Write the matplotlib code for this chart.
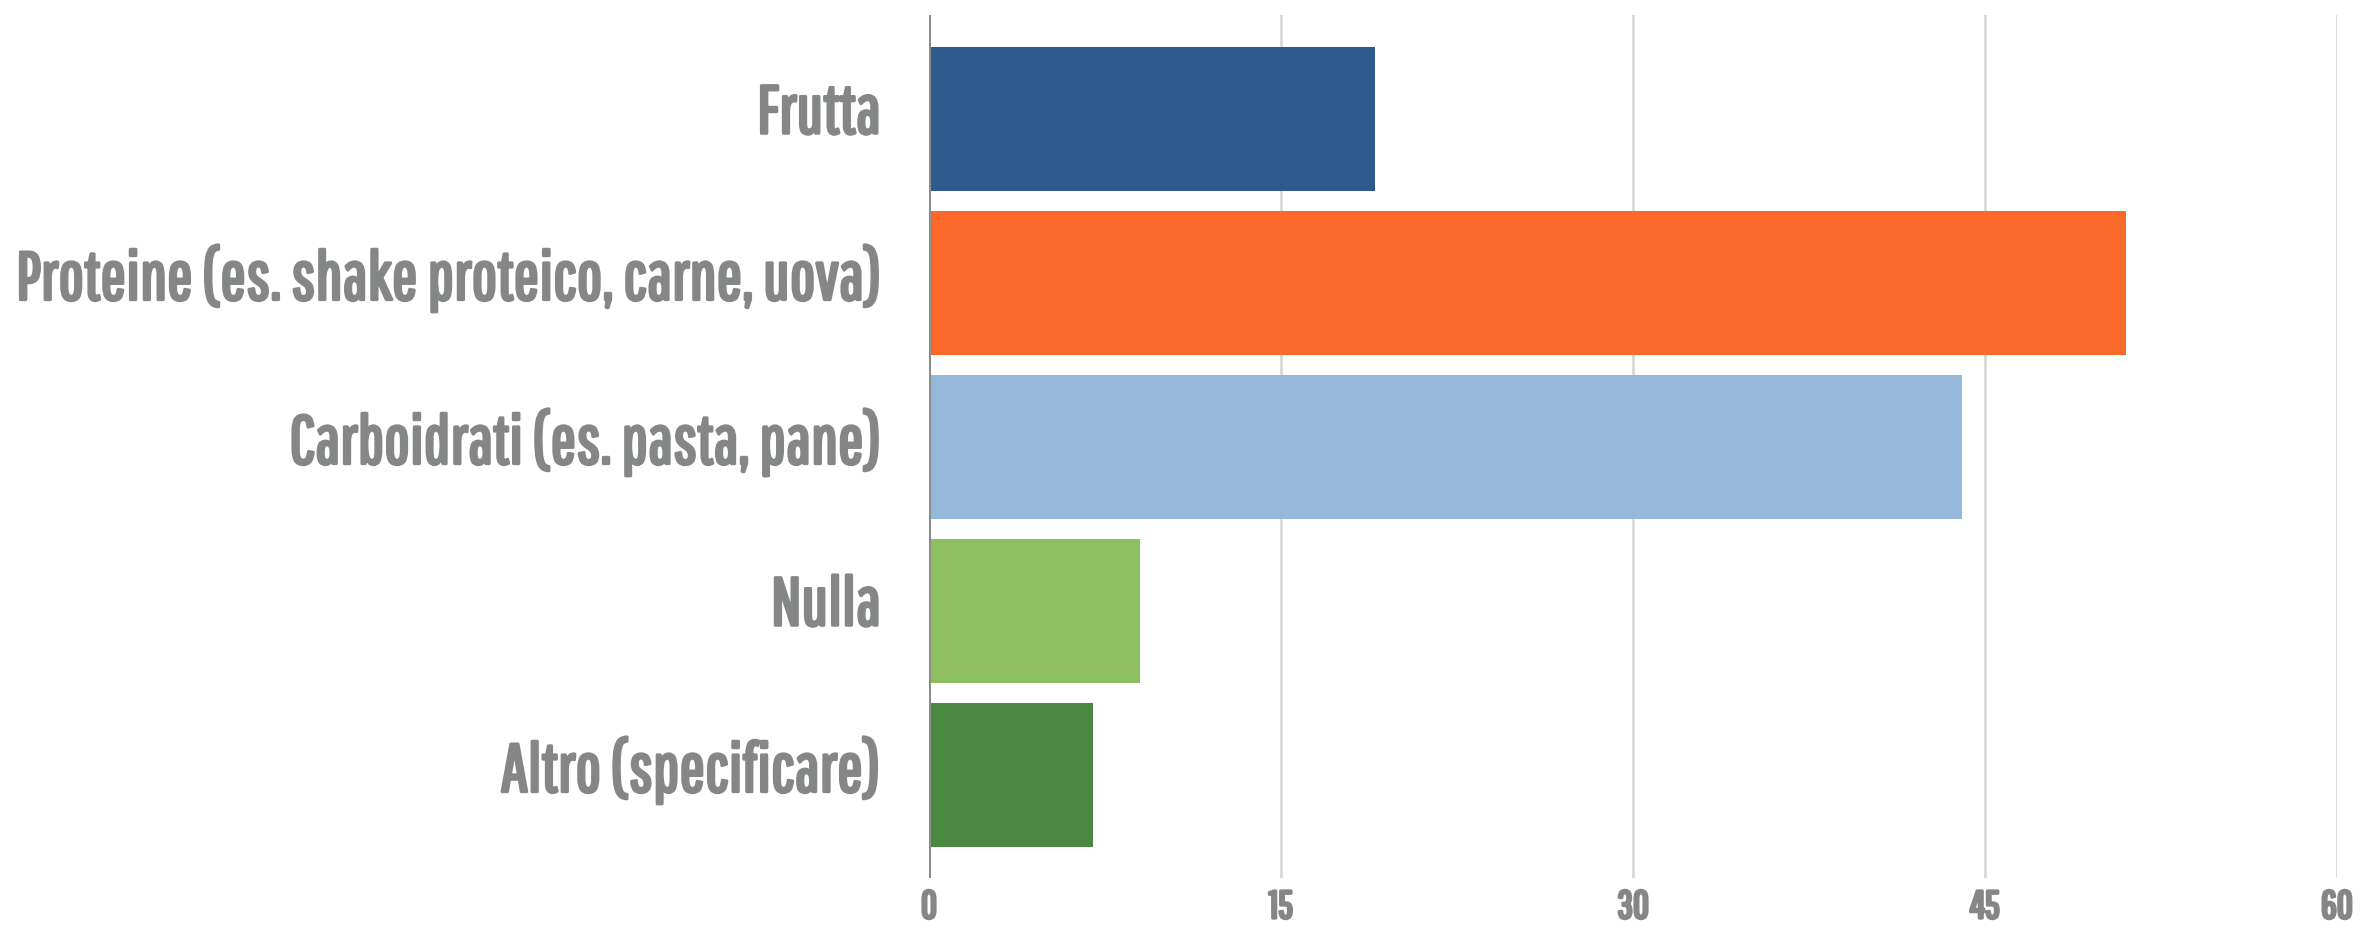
import matplotlib
matplotlib.use("Agg")
import matplotlib.pyplot as plt
from matplotlib import font_manager
import matplotlib.patheffects as pe
import matplotlib.transforms as mtransforms

categories = [
    "Frutta",
    "Proteine (es. shake proteico, carne, uova)",
    "Carboidrati (es. pasta, pane)",
    "Nulla",
    "Altro (specificare)",
]
values = [19, 51, 44, 9, 7]
colors = ["#2E5A8B", "#F9692A", "#96B8DB", "#8DBE60", "#4B8943"]
xticks = [0, 15, 30, 45, 60]
xtick_labels = ["0", "15", "30", "45", "60"]

names = {f.name for f in font_manager.fontManager.ttflist}
fam = [n for n in ["Pathway Gothic One", "League Gothic", "DejaVu Sans"] if n in names] or ["DejaVu Sans"]
text_color = "#858787"
bold_fx = [pe.withStroke(linewidth=2.2, foreground=text_color)]

W, H = 2378, 927
fig = plt.figure(figsize=(W / 100, H / 100), dpi=100)
ax = fig.add_axes([929 / W, 1 - 878 / H, (2337 - 929) / W, (878 - 15) / H])

ypos = list(range(len(categories)))
ax.barh(ypos, values, height=0.878, color=colors, zorder=3)
ax.set_xlim(0, 60)
ax.set_ylim(4.628, -0.634)

for spine in ax.spines.values():
    spine.set_visible(False)
ax.axvline(0, color="#8C8C8C", lw=2.2, zorder=4)
for t in xticks[1:]:
    ax.axvline(t, color="#D9D9D9", lw=2.0, zorder=1)

ax.set_xticks(xticks)
ax.set_xticklabels(xtick_labels)
ax.tick_params(axis="x", length=0, pad=8, labelcolor=text_color)

ax.set_yticks(ypos)
ax.set_yticklabels(categories)
ax.tick_params(axis="y", length=0, pad=35, labelcolor=text_color)

# fit label font size so the longest label spans the same width as the reference
target_w = 866
size = 40
for lab in ax.get_yticklabels():
    lab.set_fontfamily(fam)
    lab.set_fontsize(size)
    lab.set_path_effects(bold_fx)
fig.canvas.draw()
r = fig.canvas.get_renderer()
wmax = max(l.get_window_extent(r).width for l in ax.get_yticklabels())
size = size * target_w / wmax
for lab in ax.get_yticklabels():
    lab.set_fontsize(size)
for lab in ax.get_xticklabels():
    lab.set_fontfamily(fam)
    lab.set_fontsize(28)
    lab.set_path_effects(bold_fx)

# nudge category labels upward slightly (reference text sits a bit above bar centre)
up = mtransforms.ScaledTranslation(0, 11 / 100, fig.dpi_scale_trans)
for tick in ax.yaxis.get_major_ticks():
    tick.label1.set_transform(tick.label1.get_transform() + up)

fig.savefig("out.png", dpi=100, facecolor="white")
